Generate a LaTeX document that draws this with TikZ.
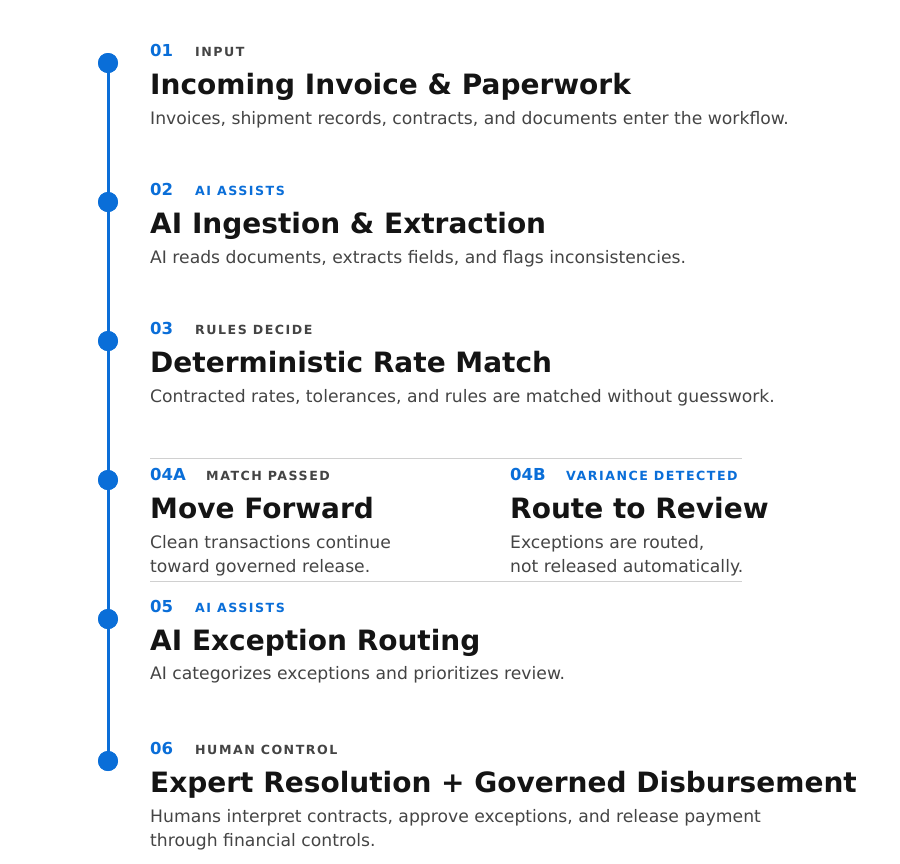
\documentclass[tikz,border=0pt]{standalone}
\usepackage{fontspec}
\setmainfont{DejaVu Sans}
\usetikzlibrary{positioning}
\definecolor{stepblue}{HTML}{0A6ED8}
\definecolor{linegrey}{HTML}{D0D0D0}
\definecolor{tagdark}{HTML}{444444}
\definecolor{bodygrey}{HTML}{444444}
\tikzset{
  num/.style={anchor=base west, inner sep=0pt, text=stepblue, font=\fontsize{16.5}{20}\selectfont\bfseries},
  tag/.style={anchor=base west, inner sep=0pt, font=\fontsize{12.6}{15}\selectfont\bfseries\addfontfeatures{LetterSpace=12}},
  title/.style={anchor=base west, inner sep=0pt, text=black!92, font=\fontsize{28}{33}\selectfont\bfseries},
  desc/.style={anchor=base west, inner sep=0pt, text=bodygrey, align=left, font=\fontsize{17.2}{24}\selectfont},
  dot/.style={circle, fill=stepblue, minimum size=20pt, inner sep=0pt},
}
\begin{document}
\begin{tikzpicture}[x=1pt,y=-1pt]
  \useasboundingbox (0,0) rectangle (900,863);
  % timeline
  \node [dot] (d1) at (108,63) {};
  \node [dot] (d2) at (108,202) {};
  \node [dot] (d3) at (108,341) {};
  \node [dot] (d4) at (108,480) {};
  \node [dot] (d5) at (108,619) {};
  \node [dot] (d6) at (108,761) {};
  \draw [stepblue, line width=3pt] (d1.center) -- (d6.center);
  \foreach \d in {d1,d2,d3,d4,d5,d6} \node [dot] at (\d) {};
  % step 1
  \node [num] (n1) at (150,56) {01};
  \node [tag, text=tagdark] (t1) at (195,56) {INPUT};
  \node [title] (h1) at (150,94) {Incoming Invoice \& Paperwork};
  \node [desc] (p1) at (150,124) {Invoices, shipment records, contracts, and documents enter the workflow.};
  % step 2
  \node [num] (n2) at (150,195) {02};
  \node [tag, text=stepblue] (t2) at (195,195) {AI ASSISTS};
  \node [title] (h2) at (150,233) {AI Ingestion \& Extraction};
  \node [desc] (p2) at (150,263) {AI reads documents, extracts fields, and flags inconsistencies.};
  % step 3
  \node [num] (n3) at (150,334) {03};
  \node [tag, text=tagdark] (t3) at (195,334) {RULES DECIDE};
  \node [title] (h3) at (150,372) {Deterministic Rate Match};
  \node [desc] (p3) at (150,402) {Contracted rates, tolerances, and rules are matched without guesswork.};
  % step 4
  \coordinate (s1) at (150,458);
  \coordinate (s2) at (742,458);
  \coordinate (s3) at (150,581);
  \coordinate (s4) at (742,581);
  \draw [linegrey] (s1) -- (s2);
  \draw [linegrey] (s3) -- (s4);
  \node [num] (n4a) at (150,480) {04A};
  \node [tag, text=tagdark] (t4a) at (206,480) {MATCH PASSED};
  \node [title] (h4a) at (150,518) {Move Forward};
  \node [desc] (p4a) at (150,572) {Clean transactions continue\\toward governed release.};
  \node [num] (n4b) at (510,480) {04B};
  \node [tag, text=stepblue] (t4b) at (566,480) {VARIANCE DETECTED};
  \node [title] (h4b) at (510,518) {Route to Review};
  \node [desc] (p4b) at (510,572) {Exceptions are routed,\\not released automatically.};
  % step 5
  \node [num] (n5) at (150,612) {05};
  \node [tag, text=stepblue] (t5) at (195,612) {AI ASSISTS};
  \node [title] (h5) at (150,650) {AI Exception Routing};
  \node [desc] (p5) at (150,679) {AI categorizes exceptions and prioritizes review.};
  % step 6
  \node [num] (n6) at (150,754) {06};
  \node [tag, text=tagdark] (t6) at (195,754) {HUMAN CONTROL};
  \node [title] (h6) at (150,792) {Expert Resolution + Governed Disbursement};
  \node [desc] (p6) at (150,846) {Humans interpret contracts, approve exceptions, and release payment\\through financial controls.};
\end{tikzpicture}
\end{document}
